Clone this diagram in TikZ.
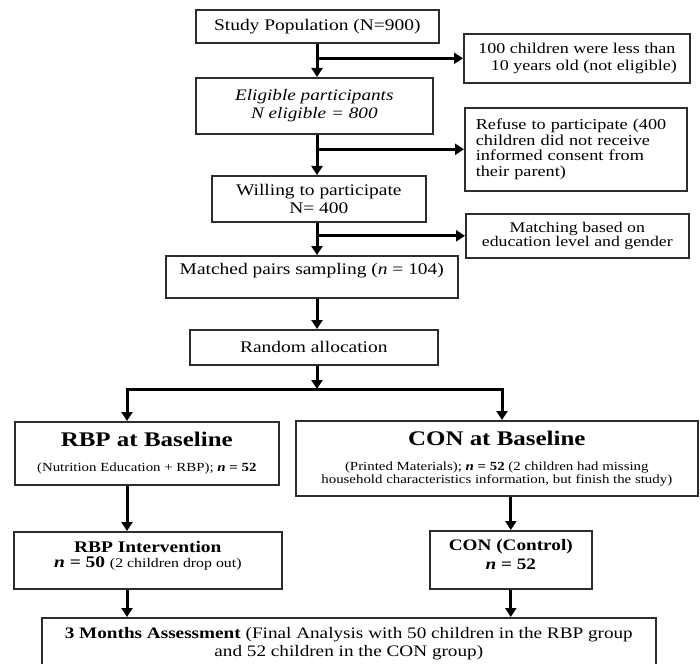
\documentclass[tikz,border=0pt]{standalone}
\usepackage{fontspec}
\setmainfont{Liberation Serif}[FakeStretch=1.2]
\usetikzlibrary{positioning, calc, arrows.meta}
\definecolor{boxgray}{RGB}{45,45,45}
\newcommand{\fsz}[2]{\fontsize{#1}{#2}\selectfont}
\newcommand{\grptitle}{\fsz{10.4}{12}\bfseries}

\begin{document}
\begin{tikzpicture}[
        x=0.5pt, y=-0.5pt,
        box/.style={rectangle, draw=boxgray, line width=0.8pt, anchor=north west, align=center, inner sep=1pt, font=\fsz{8.1}{8.7}},
        sidebox/.style={box, font=\fsz{7.5}{8.4}},
        grpbox/.style={box, font=\fsz{6.2}{6.5}},
        arrow/.style={-{Triangle[length=4.5pt, width=5.5pt]}, line width=1.5pt},
        fork/.style={{Triangle[length=4.5pt, width=5.5pt]}-{Triangle[length=4.5pt, width=5.5pt]}, line width=1.5pt, line join=miter},
    ]
    \useasboundingbox (0,0) rectangle (700,663);
    \clip (0,0) rectangle (700,663);

    % ===== Main column =====
    \coordinate (axis) at (317,0);
    \node[box, minimum width=121.5pt, minimum height=16.5pt] (pop) at (195,9) {Study Population (N=900)};
    \node[box, font=\fsz{8}{8.7}\itshape, minimum width=118.5pt, minimum height=28pt] (elig) at (195,77) {Eligible participants\\N eligible = 800};
    \node[box, minimum width=107pt, minimum height=23pt, font=\fsz{8.1}{9}] (will) at (211,175) {Willing to participate\\N= 400};
    \node[box, minimum width=146pt, minimum height=21pt, text depth=8pt] (pairs) at (165,255) {Matched pairs sampling (\textit{n} = 104)};
    \node[box, minimum width=124pt, minimum height=17.5pt] (rand) at (189,329) {Random allocation};

    % ===== Side boxes =====
    \node[sidebox, minimum width=113pt, minimum height=24.5pt] (excl) at (463,33) {100 children were less than\\\hspace*{7pt}10 years old (not eligible)};
    \node[sidebox, align=left, text width=100pt, inner xsep=5.5pt, minimum height=41.5pt, font=\fsz{7.6}{7.9}] (refuse) at (464,107) {Refuse to participate (400\\children did not receive\\informed consent from\\their parent)};
    \node[sidebox, minimum width=111.5pt, minimum height=22pt, font=\fsz{7.4}{7.3}] (match) at (465,213) {Matching based on\\education level and gender};

    \draw[arrow] (pop.south -| axis) -- (elig.north -| axis);
    \draw[arrow] (elig.south -| axis) -- (will.north -| axis);
    \draw[arrow] (will.south -| axis) -- (pairs.north -| axis);
    \draw[arrow] (pairs.south -| axis) -- (rand.north -| axis);
    \draw[arrow] (axis |- excl.west) -- (excl.west);
    \draw[arrow] (axis |- refuse.west) -- (refuse.west);
    \draw[arrow] (axis |- match.west) -- (match.west);

    % ===== Groups =====
    \node[grpbox, minimum width=132pt, minimum height=31.5pt] (rbp) at (14,421)
        {{\grptitle RBP at Baseline}\\[6pt](Nutrition Education + RBP); \textbf{\textit{n} = 52}};
    \node[grpbox, minimum width=201pt, minimum height=37.5pt] (con) at (295,420)
        {{\grptitle CON at Baseline}\\[6pt](Printed Materials); \textbf{\textit{n} = 52} (2 children had missing\\household characteristics information, but finish the study)};

    \coordinate (split) at (317,389);
    \coordinate (lsplit) at (127,389);
    \coordinate (rsplit) at (502,389);
    \draw[arrow] (rand.south -| axis) -- (split);
    \draw[fork] (lsplit |- rbp.north) -- (lsplit) -- (rsplit) -- (rsplit |- con.north);

    \node[box, minimum width=134pt, minimum height=28.5pt, font=\fsz{8.1}{7.6}, text depth=6pt] (rbpint) at (13,531)
        {\textbf{RBP Intervention}\\\textbf{\textit{n} = 50} {\fsz{6.6}{7.6}(2 children drop out)}};
    \node[box, minimum width=81pt, minimum height=29pt, font=\fsz{8}{9.5}\bfseries, text depth=5pt] (conctl) at (429,530)
        {CON (Control)\\\textit{n} = 52};

    \draw[arrow] (rbp.south -| lsplit) -- (rbpint.north -| lsplit);
    \draw[arrow] (conctl.north |- con.south) -- (conctl.north);

    % ===== Final assessment =====
    \node[box, minimum width=307pt, font=\fsz{8}{8.6}, inner ysep=5pt, text depth=20pt] (assess) at (41,617)
        {\textbf{3 Months Assessment} (Final Analysis with 50 children in the RBP group\\and 52 children in the CON group)};

    \draw[arrow] (rbpint.south -| lsplit) -- (assess.north -| lsplit);
    \draw[arrow] (conctl.south) -- (conctl.south |- assess.north);

\end{tikzpicture}
\end{document}
